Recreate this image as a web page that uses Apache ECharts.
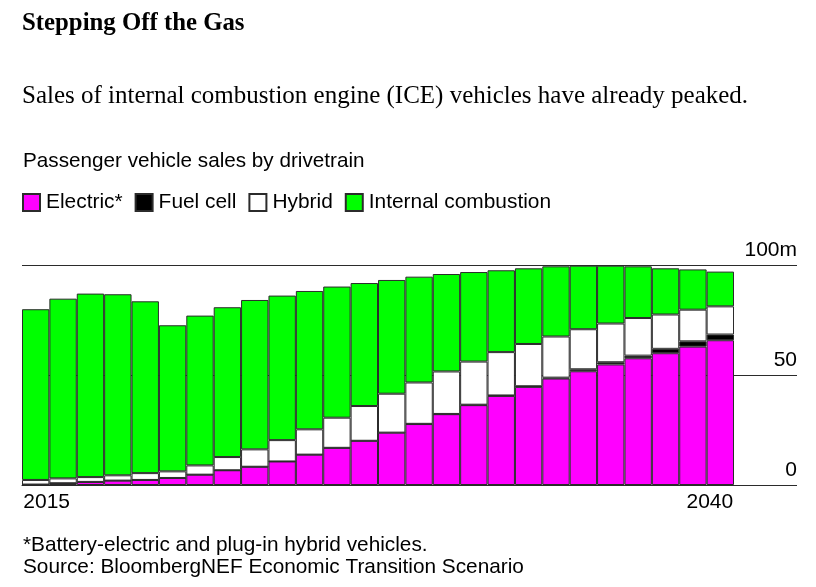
<!DOCTYPE html>
<html>
<head>
<meta charset="utf-8">
<script src="https://cdn.jsdelivr.net/npm/echarts@6/dist/echarts.min.js"></script>
<style>
  html, body { margin: 0; padding: 0; background: #fff; }
  #chart { width: 816px; height: 587px; }
</style>
</head>
<body>
<div id="chart"></div>
<script>
var years = [2015, 2016, 2017, 2018, 2019, 2020, 2021, 2022, 2023, 2024, 2025, 2026, 2027,
  2028, 2029, 2030, 2031, 2032, 2033, 2034, 2035, 2036, 2037, 2038, 2039, 2040];
var electric = [0.2, 0.8, 1.4, 2.0, 2.3, 3.2, 4.7, 6.7, 8.3, 10.7, 13.8, 16.9, 20.1,
  23.8, 27.7, 32.2, 36.3, 40.5, 44.6, 48.4, 51.7, 54.8, 57.6, 59.9, 62.9, 65.8];
var fuelCell = [0, 0, 0, 0, 0, 0, 0, 0, 0, 0, 0, 0, 0,
  0, 0.1, 0.1, 0.2, 0.2, 0.3, 0.4, 0.9, 1.0, 1.2, 2.0, 2.4, 2.6];
var hybrid = [2.1, 2.2, 2.2, 2.4, 3.1, 3.0, 4.2, 6.0, 7.9, 9.7, 11.5, 13.7, 15.8,
  17.7, 18.8, 19.3, 19.6, 19.7, 19.2, 18.7, 18.2, 17.6, 17.1, 15.6, 14.4, 12.8];
var internalCombustion = [77.6, 81.7, 83.4, 82.3, 78.1, 66.4, 68.1, 68.1, 67.9, 65.7, 62.9, 59.6, 55.9,
  51.7, 48.1, 44.3, 40.7, 37.2, 34.4, 31.9, 28.9, 26.3, 23.5, 21.0, 18.3, 15.8];
var xTickLabels = ['2015', '2040'];

var sansFont = '"Liberation Sans", Arial, sans-serif';
var serifFont = '"Liberation Serif", Georgia, serif';
var lineColor = '#2b2b2b';

var makeSeries = function (name, values, color) {
  return {
    name: name,
    type: 'bar',
    stack: 'sales',
    barCategoryGap: 0,
    itemStyle: { color: color, borderColor: lineColor, borderWidth: 1 },
    emphasis: { disabled: true },
    data: values
  };
};

var makeText = function (text, left, top, font, size, weight, lineHeight) {
  return {
    text: text,
    left: left,
    top: top,
    padding: 0,
    textStyle: {
      fontFamily: font,
      fontSize: size,
      fontWeight: weight,
      color: '#000',
      lineHeight: lineHeight || size
    }
  };
};

var chart = echarts.init(document.getElementById('chart'), null, { renderer: 'canvas' });
chart.setOption({
  animation: false,
  backgroundColor: '#fff',
  title: [
    makeText('Stepping Off the Gas', 22, 11, serifFont, 24.8, 'bold'),
    makeText('Sales of internal combustion engine (ICE) vehicles have already peaked.', 22, 83.5, serifFont, 25, 'normal'),
    makeText('Passenger vehicle sales by drivetrain', 23, 151, sansFont, 20.7, 'normal'),
    makeText('*Battery-electric and plug-in hybrid vehicles.\nSource: BloombergNEF Economic Transition Scenario', 23, 534, sansFont, 20.8, 'normal', 22)
  ],
  legend: {
    left: 22,
    top: 192,
    padding: 0,
    itemWidth: 17,
    itemHeight: 17,
    itemGap: 12,
    selectedMode: false,
    icon: 'rect',
    textStyle: { fontFamily: sansFont, fontSize: 20.9, color: '#000', padding: [0, 0, 0, 1] },
    data: ['Electric*', 'Fuel cell', 'Hybrid', 'Internal combustion']
  },
  // bars sit in the first grid, the second one only carries the value labels and rule ends
  grid: [
    { left: 22, width: 712, top: 265, height: 220 },
    { left: 734, width: 63, top: 265, height: 220 }
  ],
  xAxis: [
    {
      type: 'category',
      gridIndex: 0,
      data: years,
      axisLine: { show: true, lineStyle: { color: lineColor, width: 1 } },
      axisTick: { show: false },
      axisLabel: {
        interval: 0,
        margin: 7,
        formatter: function (v) {
          if (v === xTickLabels[0]) { return '{first|' + v + '}'; }
          if (v === xTickLabels[1]) { return '{last|' + v + '}'; }
          return '';
        },
        rich: {
          first: { fontFamily: sansFont, fontSize: 21, color: '#000', padding: [0, 0, 0, 22] },
          last: { fontFamily: sansFont, fontSize: 21, color: '#000', padding: [0, 21, 0, 0] }
        }
      }
    },
    {
      type: 'value',
      gridIndex: 1,
      show: false
    }
  ],
  yAxis: [
    {
      type: 'value',
      gridIndex: 0,
      min: 0,
      max: 100,
      interval: 50,
      axisLine: { show: false },
      axisTick: { show: false },
      axisLabel: { show: false },
      splitLine: { show: true, lineStyle: { color: lineColor, width: 1 } }
    },
    {
      type: 'value',
      gridIndex: 1,
      position: 'right',
      min: 0,
      max: 100,
      interval: 50,
      axisLine: { show: false },
      axisTick: { show: false },
      splitLine: { show: true, lineStyle: { color: lineColor, width: 1 } },
      axisLabel: {
        inside: true,
        margin: 0,
        verticalAlign: 'bottom',
        fontFamily: sansFont,
        fontSize: 21,
        color: '#000',
        padding: [0, 0, 4, 0],
        formatter: function (v) { return v === 100 ? '100m' : String(v); }
      }
    }
  ],
  series: [
    makeSeries('Electric*', electric, '#ff00ff'),
    makeSeries('Fuel cell', fuelCell, '#000000'),
    makeSeries('Hybrid', hybrid, '#ffffff'),
    makeSeries('Internal combustion', internalCombustion, '#00ff00')
  ]
});
</script>
</body>
</html>
